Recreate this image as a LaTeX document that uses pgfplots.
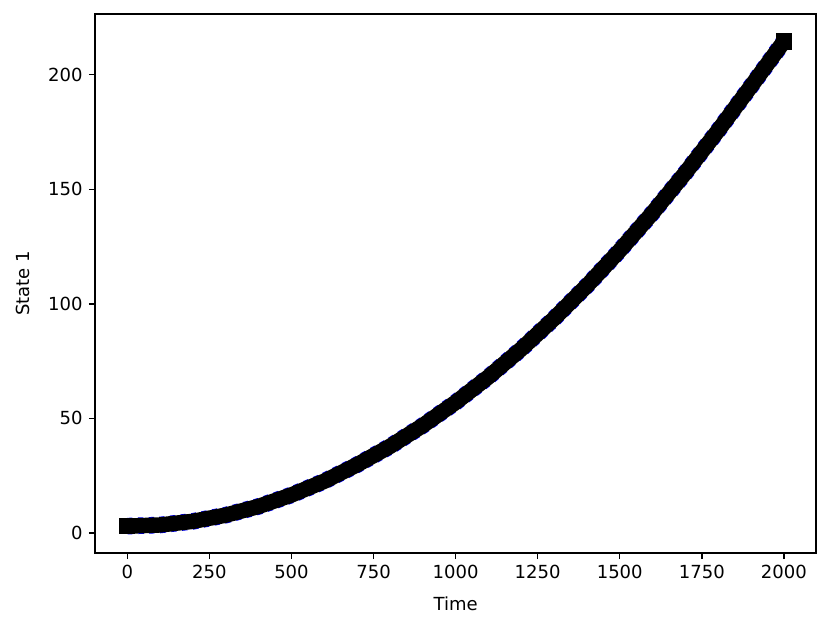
\documentclass[border=0pt]{standalone}
\usepackage{fontspec}
\setmainfont{DejaVu Sans}
\usepackage{pgfplots}
\pgfplotsset{compat=1.18}
\begin{document}
\fontsize{10}{12}\selectfont
\begin{tikzpicture}
\begin{axis}[
  scale only axis,
  width=400pt, height=299pt,
  xmin=-98, xmax=2098,
  ymin=-8.7, ymax=226.5,
  xtick={0,250,500,750,1000,1250,1500,1750,2000},
  ytick={0,50,100,150,200},
  tick align=outside,
  xtick pos=bottom, ytick pos=left,
  major tick length=3.5pt,
  tick style={black, line width=0.8pt},
  axis line style={line width=0.8pt},
  /pgf/number format/assume math mode=true,
  /pgf/number format/1000 sep={},
  xlabel={Time}, ylabel={State 1},
  ticklabel style={font=\fontsize{10}{12}\selectfont},
  label style={font=\fontsize{10}{12}\selectfont},
  xlabel style={yshift=-3pt},
  ylabel style={yshift=3.5pt},
]
\addplot[blue, dashed, line width=9.2pt, line cap=butt] coordinates {
(0,3.0) (100,3.5) (200,5.1) (300,7.8) (400,11.6) (500,16.6) (600,22.6) (700,29.8) (800,37.8) (900,46.9) (1000,57.0) (1100,68.1) (1200,80.3) (1300,93.6) (1400,107.9) (1500,123.3) (1600,139.7) (1700,157.2) (1800,175.7) (1900,195.0) (2000,214.5)
};
\addplot[black, line width=8.6pt, line cap=butt, mark=square*, mark size=4.2pt, mark repeat=20, mark options={solid, line width=0pt}] coordinates {
(0,3.0) (100,3.5) (200,5.1) (300,7.8) (400,11.6) (500,16.6) (600,22.6) (700,29.8) (800,37.8) (900,46.9) (1000,57.0) (1100,68.1) (1200,80.3) (1300,93.6) (1400,107.9) (1500,123.3) (1600,139.7) (1700,157.2) (1800,175.7) (1900,195.0) (2000,214.5)
};
\end{axis}
\pgfresetboundingbox
\path ([shift={(-52.8pt,-42.2pt)}]current axis.south west) rectangle ([shift={(8.3pt,7.8pt)}]current axis.north east);
\end{tikzpicture}
\end{document}
